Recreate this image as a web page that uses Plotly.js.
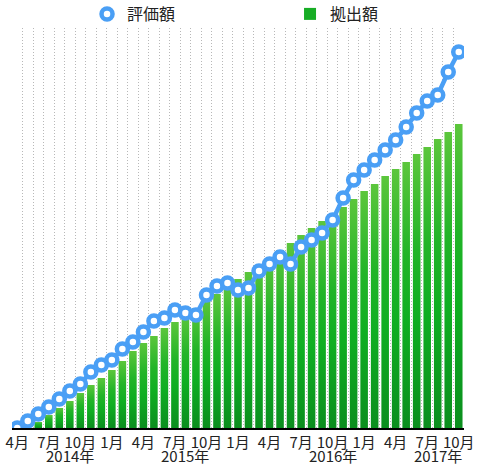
<!DOCTYPE html>
<html>
<head>
<meta charset="utf-8">
<script src="https://cdn.plot.ly/plotly-3.0.1.min.js"></script>
<style>
html,body{margin:0;padding:0;background:#fff;}
#chart{width:480px;height:465px;}
</style>
</head>
<body>
<div id="chart"></div>
<script>
// Months (categories)
const months = [
  '2014-04','2014-05','2014-06','2014-07','2014-08','2014-09','2014-10','2014-11','2014-12',
  '2015-01','2015-02','2015-03','2015-04','2015-05','2015-06','2015-07','2015-08','2015-09','2015-10','2015-11','2015-12',
  '2016-01','2016-02','2016-03','2016-04','2016-05','2016-06','2016-07','2016-08','2016-09','2016-10','2016-11','2016-12',
  '2017-01','2017-02','2017-03','2017-04','2017-05','2017-06','2017-07','2017-08','2017-09','2017-10'
];
// 評価額 (valuation)
const valuation = [
  0, 7, 14, 21, 29, 37, 44, 56, 63,
  68, 79, 86, 96, 107, 110, 118, 115, 113, 133, 142, 145,
  138, 140, 157, 164, 171, 164, 181, 188, 195, 208, 230, 248,
  258, 268, 278, 288, 301, 315, 327, 333, 356, 376
];
// 拠出額 (contributions)
const contributions = [
  0, 0, 6, 13, 20, 27, 35, 43, 50,
  58, 67, 77, 85, 92, 100, 106, 113, 120, 128, 134, 142,
  149, 156, 163, 170, 178, 185, 193, 200, 207, 214, 221, 229,
  237, 244, 252, 259, 266, 274, 281, 289, 296, 304
];
// Month tick labels
const tickMonths = ['2014-04','2014-07','2014-10','2015-01','2015-04','2015-07','2015-10','2016-01','2016-04','2016-07','2016-10','2017-01','2017-04','2017-07','2017-10'];
const tickLabels = ['4月','7月','10月','1月','4月','7月','10月','1月','4月','7月','10月','1月','4月','7月','10月'];
// Year labels
const yearMonths = ['2014-09','2015-08','2016-10','2017-08'];
const yearLabels = ['2014年','2015年','2016年','2017年'];

const seriesNames = ['評価額','拠出額'];

const xIdx = months.map((m, i) => i);
const idxOf = m => months.indexOf(m);

const BLUE = '#4a9ff5';
const FONT = '"Noto Sans CJK JP", "Noto Sans", sans-serif';

const data = [
  {
    type: 'scatter',
    mode: 'lines+markers',
    name: seriesNames[0],
    x: xIdx,
    y: valuation,
    line: {color: BLUE, width: 4.5},
    marker: {symbol: 'circle', size: 11, color: '#ffffff', line: {color: BLUE, width: 4.5}},
    hoverinfo: 'skip'
  },
  {
    type: 'bar',
    name: seriesNames[1],
    x: xIdx,
    y: contributions,
    width: 0.72,
    marker: {color: '#17ad25', line: {width: 0}},
    hoverinfo: 'skip'
  }
];

const annotations = yearLabels.map((t, i) => ({
  text: t,
  x: idxOf(yearMonths[i]),
  xref: 'x',
  y: 0,
  yref: 'paper',
  yanchor: 'top',
  xanchor: 'center',
  yshift: -15,
  showarrow: false,
  font: {family: FONT, size: 15, color: '#222222'}
}));

const layout = {
  width: 480,
  height: 465,
  margin: {l: 12, r: 16, t: 28, b: 37, autoexpand: false},
  paper_bgcolor: '#ffffff',
  plot_bgcolor: '#ffffff',
  font: {family: FONT, color: '#222222', size: 15},
  showlegend: true,
  legend: {
    orientation: 'h',
    x: 0.166, xanchor: 'left',
    y: 1.035, yanchor: 'middle',
    entrywidth: 158, entrywidthmode: 'pixels',
    font: {family: FONT, size: 16, color: '#222222'},
    bgcolor: 'rgba(0,0,0,0)',
    borderwidth: 0,
    traceorder: 'normal'
  },
  annotations: annotations,
  xaxis: {
    type: 'linear',
    range: [-0.5, 42.5],
    tickmode: 'array',
    tickvals: tickMonths.map(idxOf),
    ticktext: tickLabels,
    ticks: '',
    showgrid: false,
    zeroline: false,
    showline: true,
    linecolor: '#000000',
    linewidth: 1.5,
    tickfont: {family: FONT, size: 15, color: '#222222'},
    minor: {
      tickmode: 'linear',
      tick0: -0.5,
      dtick: 1,
      ticks: '',
      showgrid: true,
      gridcolor: '#b8b8b8',
      gridwidth: 1,
      griddash: '1px,2px'
    },
    fixedrange: true
  },
  yaxis: {
    range: [0, 400],
    showgrid: false,
    zeroline: false,
    showticklabels: false,
    ticks: '',
    showline: false,
    fixedrange: true
  },
  bargap: 0.28
};

Plotly.newPlot('chart', data, layout, {displayModeBar: false, staticPlot: true}).then(gd => {
  const ns = 'http://www.w3.org/2000/svg';
  const svg = gd.querySelector('svg.main-svg');
  let defs = svg.querySelector('defs');
  if (!defs) { defs = document.createElementNS(ns, 'defs'); svg.insertBefore(defs, svg.firstChild); }
  const lg = document.createElementNS(ns, 'linearGradient');
  lg.setAttribute('id', 'barGrad');
  lg.setAttribute('x1', '0'); lg.setAttribute('y1', '0');
  lg.setAttribute('x2', '0'); lg.setAttribute('y2', '1');
  [['0', '#5cc63c'], ['0.35', '#22b428'], ['0.6', '#0fae22'], ['1', '#0b8e1e']].forEach(([o, c]) => {
    const s = document.createElementNS(ns, 'stop');
    s.setAttribute('offset', o);
    s.setAttribute('stop-color', c);
    lg.appendChild(s);
  });
  defs.appendChild(lg);
  gd.querySelectorAll('.barlayer .point path').forEach(p => { p.style.fill = 'url(#barGrad)'; });
  gd.querySelectorAll('.legend path.legendbar').forEach(p => { p.style.fill = 'url(#barGrad)'; });
  gd.querySelectorAll('.legend .legendlines path').forEach(p => { p.style.display = 'none'; });
});
</script>
</body>
</html>
